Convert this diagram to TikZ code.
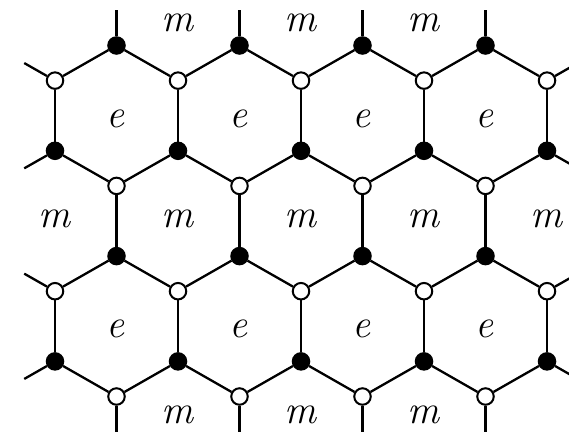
\documentclass[tikz,border=0pt]{standalone}
\usepackage{fontspec}
\begin{document}
\begin{tikzpicture}[x=1pt,y=-1pt,
  vtx/.style={circle,draw,line width=2pt,minimum size=16.5pt,inner sep=0pt},
  blk/.style={vtx,fill=black},
  wht/.style={vtx,fill=white},
  lbl/.style={font=\fontsize{40}{40}\selectfont\itshape,inner sep=0pt},
  edge/.style={line width=2.3pt}]
\useasboundingbox (0,0) rectangle (569,435);
\clip (0,0) rectangle (569,435);
% vertices
\foreach \k in {1,3,5,7} {
  \node[blk] (A\k) at ({55+61.5*\k},45.5) {};
  \node[wht] (D\k) at ({55+61.5*\k},185.9) {};
  \node[blk] (E\k) at ({55+61.5*\k},256.1) {};
  \node[wht] (H\k) at ({55+61.5*\k},396.5) {};
  \coordinate (a\k) at ({55+61.5*\k},10.4);
  \coordinate (h\k) at ({55+61.5*\k},431.6);
}
\foreach \k in {0,2,4,6,8} {
  \node[wht] (B\k) at ({55+61.5*\k},80.6) {};
  \node[blk] (C\k) at ({55+61.5*\k},150.8) {};
  \node[wht] (F\k) at ({55+61.5*\k},291.2) {};
  \node[blk] (G\k) at ({55+61.5*\k},361.4) {};
}
% stub ends
\coordinate (bL) at (24.25,63.05);
\coordinate (bR) at (577.75,63.05);
\coordinate (cL) at (24.25,168.35);
\coordinate (cR) at (577.75,168.35);
\coordinate (fL) at (24.25,273.65);
\coordinate (fR) at (577.75,273.65);
\coordinate (gL) at (24.25,378.95);
\coordinate (gR) at (577.75,378.95);
% edges
\foreach \k in {1,3,5,7} {
  \pgfmathtruncatemacro{\l}{\k-1}
  \pgfmathtruncatemacro{\r}{\k+1}
  \draw[edge] (A\k) -- (B\l);
  \draw[edge] (A\k) -- (B\r);
  \draw[edge] (D\k) -- (C\l);
  \draw[edge] (D\k) -- (C\r);
  \draw[edge] (D\k) -- (E\k);
  \draw[edge] (E\k) -- (F\l);
  \draw[edge] (E\k) -- (F\r);
  \draw[edge] (H\k) -- (G\l);
  \draw[edge] (H\k) -- (G\r);
  \draw[edge] (A\k) -- (a\k);
  \draw[edge] (H\k) -- (h\k);
}
\foreach \k in {0,2,4,6,8} {
  \draw[edge] (B\k) -- (C\k);
  \draw[edge] (F\k) -- (G\k);
}
\draw[edge] (B0) -- (bL);
\draw[edge] (B8) -- (bR);
\draw[edge] (C0) -- (cL);
\draw[edge] (C8) -- (cR);
\draw[edge] (F0) -- (fL);
\draw[edge] (F8) -- (fR);
\draw[edge] (G0) -- (gL);
\draw[edge] (G8) -- (gR);
% labels
\foreach \k/\x in {1/115.5,2/238.5,3/361.5,4/484.5} {
  \node[lbl] (eT\k) at (\x,119) {e};
  \node[lbl] (eB\k) at (\x,329) {e};
}
\foreach \k/\x in {1/54,2/177,3/300,4/423,5/546} {
  \node[lbl] (mM\k) at (\x,219) {m};
}
\foreach \k/\x in {1/177,2/300,3/423} {
  \node[lbl] (mT\k) at (\x,23) {m};
  \node[lbl] (mB\k) at (\x,415) {m};
}
\end{tikzpicture}
\end{document}
